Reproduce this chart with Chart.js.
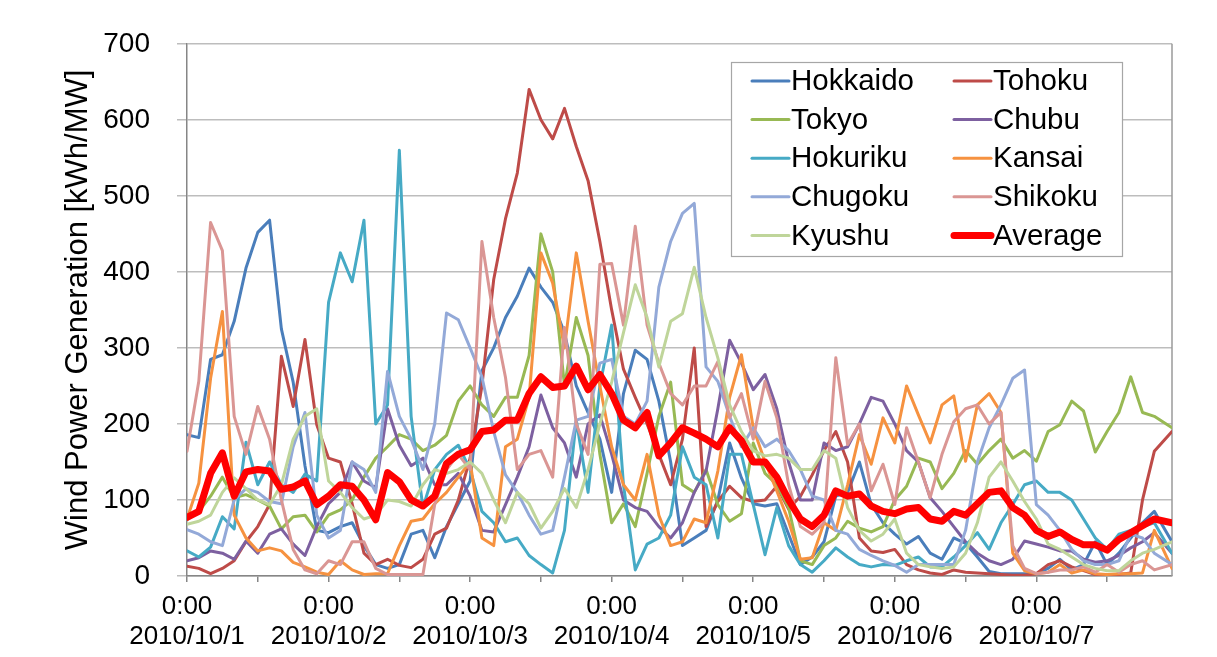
<!DOCTYPE html>
<html>
<head>
<meta charset="utf-8">
<script src="https://cdn.jsdelivr.net/npm/chart.js@4"></script>
<style>
  html, body { margin: 0; padding: 0; background: #fff; }
  #wrap { width: 1217px; height: 657px; }
</style>
</head>
<body>
<div id="wrap"><canvas id="windChart" width="1217" height="657"></canvas></div>
<script>
// Hours since 2010/10/1 0:00, one reading every 2 hours (last one at the right edge)
var hours = Array.from({ length: 83 }, function (_, i) { return i * 2; }).concat(167);
var dayLabels = ['2010/10/1', '2010/10/2', '2010/10/3', '2010/10/4', '2010/10/5', '2010/10/6', '2010/10/7'];
var xTicks = [0, 12, 24, 36, 48, 60, 72, 84, 96, 108, 120, 132, 144, 156];
var yTicks = [0, 100, 200, 300, 400, 500, 600, 700];

var seriesNames = ['Hokkaido', 'Tohoku', 'Tokyo', 'Chubu', 'Hokuriku', 'Kansai', 'Chugoku', 'Shikoku', 'Kyushu', 'Average'];

var hokkaido = [186, 182, 285, 291, 335, 405, 452, 468, 325, 255,
  145, 60, 57, 65, 70, 40, 15, 10, 15, 55,
  60, 24, 65, 95, 125, 270, 300, 340, 368, 405,
  380, 360, 320, 250, 215, 180, 110, 240, 297, 285,
  230, 150, 40, 50, 60, 100, 175, 129, 95, 92,
  95, 55, 15, 25, 45, 105, 110, 150, 94, 70,
  55, 42, 52, 30, 22, 50, 43, 25, 6, 3,
  3, 3, 3, 10, 22, 8, 15, 45, 15, 30,
  50, 70, 85, 45];
var tohoku = [13, 10, 3, 10, 20, 45, 65, 94, 289, 223,
  311, 199, 155, 150, 95, 30, 15, 22, 14, 11,
  22, 55, 63, 100, 155, 250, 390, 470, 530, 640,
  600, 575, 615, 565, 520, 440, 350, 272, 235, 200,
  160, 120, 180, 300, 65, 98, 118, 103, 98, 100,
  118, 88, 105, 133, 165, 190, 150, 50, 33, 31,
  35, 15, 8, 4, 2, 8, 5, 4, 3, 2,
  1, 1, 3, 15, 20, 12, 7, 2, 2, 2,
  4, 100, 164, 190];
var tokyo = [74, 85, 105, 130, 103, 107, 100, 92, 62, 78,
  80, 58, 80, 87, 100, 130, 155, 170, 186, 180,
  165, 172, 185, 230, 250, 225, 210, 235, 235, 290,
  450, 400, 250, 340, 290, 160, 70, 95, 65, 135,
  210, 255, 120, 110, 140, 94, 72, 82, 175, 135,
  120, 90, 20, 15, 40, 50, 72, 63, 58, 65,
  100, 118, 155, 150, 115, 135, 165, 147, 165, 180,
  155, 165, 151, 190, 199, 230, 217, 163, 190, 215,
  262, 215, 210, 195];
var chubu = [20, 24, 33, 30, 22, 46, 30, 55, 62, 42,
  27, 65, 95, 110, 150, 125, 116, 220, 172, 145,
  155, 120, 120, 135, 105, 60, 58, 94, 130, 170,
  238, 195, 175, 130, 200, 212, 160, 100, 90, 85,
  65, 50, 70, 110, 138, 220, 310, 280, 245, 265,
  220, 150, 100, 100, 175, 165, 170, 200, 235, 230,
  200, 165, 150, 103, 85, 65, 45, 30, 20, 15,
  22, 46, 42, 38, 33, 33, 22, 18, 20, 27,
  37, 45, 57, 30];
var hokuriku = [33, 25, 38, 78, 62, 176, 120, 150, 120, 110,
  134, 125, 360, 425, 387, 468, 200, 225, 560, 210,
  90, 140, 160, 172, 140, 85, 70, 45, 50, 27,
  15, 4, 60, 205, 110, 250, 330, 120, 8, 42,
  50, 80, 170, 130, 120, 50, 160, 160, 94, 28,
  90, 40, 15, 5, 20, 37, 25, 15, 12, 15,
  14, 20, 25, 12, 12, 25, 40, 57, 35, 70,
  94, 120, 125, 110, 110, 100, 75, 50, 35, 55,
  60, 65, 70, 30];
var kansai = [75, 122, 260, 348, 80, 50, 33, 37, 33, 18,
  12, 5, 2, 20, 8, 2, 3, 3, 40, 72,
  75, 95, 110, 130, 150, 50, 40, 170, 180, 235,
  425, 385, 300, 425, 335, 250, 170, 120, 100, 160,
  80, 40, 45, 75, 70, 138, 235, 291, 195, 150,
  112, 72, 22, 24, 70, 60, 120, 186, 147, 208,
  175, 250, 212, 175, 225, 237, 151, 225, 240, 215,
  30, 7, 3, 5, 15, 4, 8, 3, 2, 3,
  3, 4, 60, 10];
var chugoku = [61, 55, 45, 40, 100, 115, 110, 98, 95, 170,
  215, 80, 50, 60, 150, 140, 110, 269, 210, 180,
  140, 200, 346, 337, 300, 262, 190, 133, 110, 80,
  55, 60, 130, 205, 210, 280, 285, 210, 200, 230,
  380, 440, 477, 490, 275, 256, 210, 170, 195, 170,
  180, 165, 140, 105, 100, 60, 55, 35, 27, 20,
  14, 5, 15, 15, 15, 15, 60, 150, 195, 225,
  260, 271, 94, 80, 60, 35, 20, 15, 15, 20,
  55, 50, 30, 15];
var shikoku = [164, 256, 465, 428, 210, 160, 223, 180, 100, 35,
  8, 3, 20, 15, 45, 45, 10, 2, 2, 2,
  2, 94, 140, 160, 140, 440, 340, 261, 140, 160,
  165, 130, 327, 200, 160, 410, 411, 330, 460, 330,
  280, 240, 225, 250, 250, 282, 208, 240, 180, 256,
  208, 120, 65, 55, 70, 287, 173, 200, 112, 147,
  94, 195, 150, 103, 160, 203, 220, 225, 200, 215,
  40, 10, 3, 5, 8, 8, 12, 5, 15, 5,
  15, 20, 8, 15];
var kyushu = [68, 72, 80, 110, 129, 115, 100, 94, 120, 180,
  210, 220, 125, 110, 90, 75, 80, 100, 98, 92,
  120, 140, 135, 140, 150, 135, 100, 70, 110, 95,
  63, 85, 115, 90, 140, 200, 255, 320, 383, 340,
  275, 335, 345, 406, 340, 287, 225, 190, 165, 158,
  160, 155, 140, 140, 165, 155, 90, 60, 46, 55,
  75, 30, 15, 12, 10, 12, 30, 70, 130, 150,
  125, 98, 75, 42, 35, 25, 15, 10, 7, 7,
  20, 30, 35, 45];
var average = [77, 85, 135, 162, 105, 137, 140, 138, 114, 117,
  125, 94, 105, 120, 118, 100, 74, 136, 124, 100,
  92, 105, 148, 160, 166, 190, 192, 205, 205, 240,
  262, 248, 250, 276, 245, 265, 240, 205, 195, 215,
  158, 175, 195, 188, 180, 170, 195, 178, 150, 150,
  130, 100, 75, 65, 80, 112, 105, 108, 92, 85,
  82, 88, 90, 75, 72, 85, 80, 95, 110, 112,
  90, 80, 60, 52, 58, 48, 41, 41, 34, 48,
  57, 66, 75, 70];

var seriesValues = [hokkaido, tohoku, tokyo, chubu, hokuriku, kansai, chugoku, shikoku, kyushu, average];
var seriesColors = ['#4A7EBB', '#BE4B48', '#98B954', '#7D60A0', '#46AAC5', '#F69240', '#93A9D8', '#DA9694', '#BFD59A', '#FF0000'];

var FONT = "'Liberation Sans', Arial, Helvetica, sans-serif";

var datasets = seriesNames.map(function (name, i) {
  var isAvg = name === 'Average';
  return {
    label: name,
    data: seriesValues[i].map(function (v, k) { return { x: hours[k], y: v }; }),
    borderColor: seriesColors[i],
    backgroundColor: seriesColors[i],
    borderWidth: isAvg ? 7 : 3,
    pointRadius: 0,
    tension: 0,
    fill: false,
    borderJoinStyle: 'round',
    borderCapStyle: 'round',
    order: seriesNames.length - 1 - i   // later series drawn on top, like Excel
  };
});

// two-column legend box and the right frame line
var gridLegend = {
  id: 'gridLegend',
  beforeDatasetsDraw: function (chart) {
    var a = chart.chartArea, ctx = chart.ctx;
    ctx.save();
    ctx.strokeStyle = '#9A9A9A';
    ctx.lineWidth = 1.5;
    ctx.beginPath();
    ctx.moveTo(a.right, a.top);
    ctx.lineTo(a.right, a.bottom);
    ctx.stroke();
    ctx.restore();
  },
  afterDraw: function (chart) {
    var ctx = chart.ctx;
    ctx.save();
    ctx.fillStyle = '#fff';
    ctx.fillRect(731, 62, 391, 194);
    ctx.strokeStyle = '#A6A6A6';
    ctx.lineWidth = 1.2;
    ctx.strokeRect(731.5, 62.5, 391, 194);
    ctx.font = '29.5px ' + FONT;
    ctx.textBaseline = 'middle';
    ctx.textAlign = 'left';
    chart.data.datasets.forEach(function (ds, i) {
      var col = i % 2, row = Math.floor(i / 2);
      var lx = col ? 953 : 751;
      var ly = 81 + row * 38.6;
      ctx.strokeStyle = ds.borderColor;
      ctx.lineWidth = ds.borderWidth;
      ctx.lineCap = 'round';
      ctx.beginPath();
      ctx.moveTo(lx + 1, ly);
      ctx.lineTo(lx + 38, ly);
      ctx.stroke();
      ctx.fillStyle = '#000';
      ctx.fillText(ds.label, lx + 40, ly + 1);
    });
    ctx.restore();
  }
};

var ctx = document.getElementById('windChart');
var windChart = new Chart(ctx, {
  type: 'line',
  data: { datasets: datasets },
  plugins: [gridLegend],
  options: {
    responsive: false,
    animation: false,
    layout: { padding: { top: 42, right: 45, left: 0, bottom: 0 } },
    plugins: {
      legend: { display: false },
      tooltip: { enabled: false }
    },
    scales: {
      x: {
        type: 'linear',
        min: 0,
        max: 167,
        afterFit: function (s) { s.height = 81; },
        afterBuildTicks: function (s) {
          s.ticks = xTicks.map(function (v) { return { value: v }; });
        },
        grid: {
          drawOnChartArea: false,
          drawTicks: true,
          tickLength: 6,
          color: '#868686',
          lineWidth: 1.5
        },
        border: { color: '#868686', width: 1.5 },
        ticks: {
          autoSkip: false,
          maxRotation: 0,
          padding: 10,
          color: '#000',
          font: { family: FONT, size: 26, lineHeight: 1.15 },
          callback: function (v) {
            return v % 24 === 0 ? ['0:00', dayLabels[v / 24]] : '';
          }
        }
      },
      y: {
        min: 0,
        max: 700,
        afterFit: function (s) { s.width = 187; },
        afterBuildTicks: function (s) {
          s.ticks = yTicks.map(function (v) { return { value: v }; });
        },
        grid: {
          color: '#BDBDBD',
          lineWidth: 1.5,
          tickLength: 10
        },
        border: { color: '#868686', width: 1.5 },
        ticks: {
          padding: 27,
          color: '#000',
          font: { family: FONT, size: 28 }
        },
        title: {
          display: true,
          text: 'Wind Power Generation [kWh/MW]',
          color: '#000',
          font: { family: FONT, size: 31 },
          padding: { top: 60, bottom: 0 }
        }
      }
    }
  }
});
</script>
</body>
</html>
